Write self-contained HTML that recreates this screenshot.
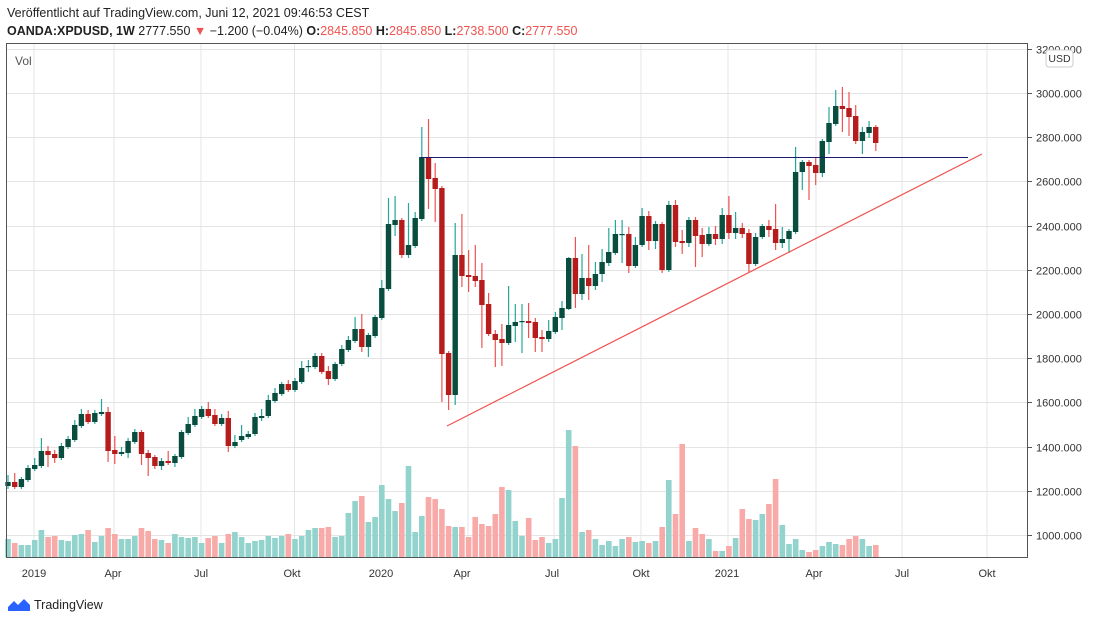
<!DOCTYPE html>
<html><head><meta charset="utf-8"><style>
body{margin:0;width:1100px;height:623px;background:#fff;overflow:hidden;font-family:"Liberation Sans",sans-serif;}
svg{position:absolute;left:0;top:0}
</style></head><body>
<svg id="s" width="1100" height="623" xmlns="http://www.w3.org/2000/svg" font-family="Liberation Sans, sans-serif">
<text x="7" y="17" font-size="12.5" fill="#222">Veröffentlicht auf TradingView.com, Juni 12, 2021 09:46:53 CEST</text>
<text x="7" y="35" font-size="12.5" fill="#222"><tspan font-weight="bold">OANDA:XPDUSD, 1W</tspan><tspan> 2777.550 </tspan><tspan fill="#ef5350">▼</tspan><tspan> −1.200 (−0.04%) </tspan><tspan font-weight="bold">O:</tspan><tspan fill="#ef5350">2845.850</tspan><tspan font-weight="bold"> H:</tspan><tspan fill="#ef5350">2845.850</tspan><tspan font-weight="bold"> L:</tspan><tspan fill="#ef5350">2738.500</tspan><tspan font-weight="bold"> C:</tspan><tspan fill="#ef5350">2777.550</tspan></text>
<g id="grid" stroke="#e4e4e4" stroke-width="1"></g>
<g id="vol"></g>
<g id="cand"></g>
<line x1="421" y1="157.5" x2="968" y2="157.5" stroke="#1a1a6e" stroke-width="1"/>
<line x1="447" y1="426" x2="982" y2="154" stroke="#ef5350" stroke-width="1.2"/>
<rect x="6.5" y="43.5" width="1021" height="514" fill="none" stroke="#555" stroke-width="1"/>
<text x="15" y="65" font-size="12" fill="#555">Vol</text>
<g id="ax" font-size="11" fill="#333"></g>
<rect x="1046" y="50" width="27" height="17" rx="3" fill="#fff" stroke="#ccc"/>
<text x="1059.5" y="62" font-size="10.5" fill="#333" text-anchor="middle">USD</text>
<g transform="translate(8,597)">
<path d="M0 10 L6 4 L10 8 L16 2 L22 8 L22 14 L0 14Z" fill="#2962ff"/>
</g>
<text x="34" y="609" font-size="12.5" fill="#222">TradingView</text>
</svg>
<script>
var C=[[482,486,'g',475,489],[482,487,'r',473,489],[479,487,'g',477,489],[468,480,'g',465,482],[465,469,'g',458,471],[451,466,'g',438,468],[451,455,'r',446,467],[454,458,'r',450,463],[446,458,'g',443,460],[439,447,'g',436,449],[425,440,'g',420,442],[414,426,'g',409,428],[414,422,'r',410,424],[413,422,'g',410,424],[412,414,'g',399,416],[412,451,'r',407,462],[450,454,'r',436,464],[452,454,'g',447,456],[441,453,'g',438,458],[432,442,'g',429,444],[432,454,'r',430,465],[453,458,'r',450,476],[457,466,'r',455,469],[461,466,'g',458,470],[461,463,'r',451,465],[456,463,'g',454,467],[432,457,'g',430,459],[424,433,'g',417,435],[416,425,'g',409,427],[409,417,'g',406,419],[409,416,'r',402,418],[415,424,'r',409,426],[418,424,'g',414,426],[418,446,'r',411,452],[442,446,'g',435,448],[436,440,'g',425,442],[434,437,'g',431,439],[417,434,'g',413,436],[416,418,'g',409,421],[400,416,'g',395,418],[393,401,'g',388,403],[384,394,'g',382,396],[384,390,'r',380,392],[381,390,'g',378,392],[368,382,'g',361,384],[366,367,'g',360,372],[356,367,'g',353,369],[356,372,'r',353,374],[371,379,'r',366,385],[364,379,'g',362,381],[349,364,'g',345,366],[340,350,'g',336,352],[329,341,'g',317,343],[329,347,'r',314,352],[335,347,'g',333,357],[317,336,'g',315,338],[288,318,'g',280,320],[224,289,'g',198,291],[220,225,'g',196,236],[220,255,'r',218,258],[245,255,'g',203,258],[218,246,'g',212,248],[157,219,'g',127,221],[157,179,'r',119,209],[178,189,'r',163,222],[188,354,'r',186,402],[353,395,'r',351,410],[255,395,'g',223,405],[255,276,'r',214,287],[275,277,'r',250,292],[276,281,'r',245,287],[280,305,'r',263,348],[304,334,'r',293,336],[334,340,'r',330,367],[339,343,'r',324,366],[325,343,'g',286,345],[322,326,'g',304,342],[321,322,'g',304,353],[321,323,'r',303,338],[322,338,'r',318,352],[337,339,'r',330,352],[331,339,'g',320,342],[317,332,'g',312,334],[308,318,'g',301,330],[258,309,'g',257,310],[258,294,'r',237,308],[278,294,'g',254,300],[278,286,'r',245,300],[274,286,'g',262,290],[262,274,'g',249,282],[252,263,'g',228,266],[234,253,'g',220,255],[234,235,'g',220,263],[234,266,'r',227,273],[245,266,'g',237,268],[216,245,'g',208,247],[216,241,'r',211,250],[224,241,'g',221,249],[224,270,'r',222,273],[205,270,'g',201,272],[205,242,'r',200,247],[241,243,'r',230,254],[220,243,'g',217,247],[220,236,'r',217,267],[235,244,'r',228,257],[234,244,'g',227,246],[234,239,'r',226,245],[215,239,'g',208,244],[215,233,'r',196,239],[228,233,'g',212,239],[228,234,'r',223,238],[233,264,'r',229,272],[237,264,'g',233,266],[226,237,'g',224,239],[226,230,'r',220,237],[229,243,'r',204,250],[239,243,'g',227,248],[231,239,'g',229,253],[172,232,'g',147,234],[162,172,'g',160,190],[162,166,'r',160,200],[165,173,'r',158,185],[141,173,'g',139,177],[123,142,'g',107,154],[106,124,'g',90,126],[106,109,'r',87,132],[108,117,'r',92,136],[116,141,'r',105,144],[132,141,'g',127,154],[127,133,'g',121,138],[127,143,'r',125,151]];
var V1=[[357,'g'],[369,'r'],[375,'g'],[375,'g'],[360,'g'],[330,'g'],[351,'r'],[348,'r'],[360,'g'],[363,'g'],[345,'g'],[342,'g'],[330,'r'],[366,'g'],[348,'g'],[324,'r'],[342,'r'],[357,'g'],[357,'g'],[348,'g'],[324,'r'],[333,'r'],[357,'r'],[360,'g'],[369,'r'],[342,'g'],[351,'g'],[354,'g'],[351,'g'],[369,'g'],[354,'r'],[348,'r'],[369,'g'],[342,'r'],[336,'g'],[351,'g'],[369,'g'],[363,'g'],[360,'g'],[348,'g'],[354,'g'],[348,'g'],[342,'r'],[357,'g'],[348,'g'],[330,'g'],[324,'g'],[324,'r'],[321,'r'],[351,'g'],[348,'g'],[279,'g'],[243,'g'],[228,'r'],[306,'g'],[291,'g'],[195,'g'],[237,'g'],[273,'g'],[249,'r'],[138,'g'],[336,'g'],[288,'g'],[231,'r'],[237,'r']];
var V2=[[267,'r'],[318,'r'],[321,'g'],[321,'r'],[351,'r'],[291,'r'],[312,'r'],[318,'r'],[282,'r'],[201,'r'],[210,'g'],[303,'g'],[348,'g'],[294,'r'],[360,'r'],[351,'r'],[369,'g'],[357,'g'],[234,'g'],[30,'g'],[78,'r'],[336,'g'],[330,'r'],[357,'g'],[375,'g'],[363,'g'],[378,'g'],[357,'g'],[351,'r'],[366,'g'],[363,'g'],[369,'r'],[363,'g'],[321,'r'],[180,'g'],[282,'r'],[72,'r'],[363,'g'],[324,'r'],[342,'r'],[357,'g'],[393,'r'],[393,'g'],[378,'r'],[354,'g'],[267,'r'],[297,'r'],[300,'g'],[282,'g'],[252,'r'],[177,'r'],[315,'g'],[372,'g'],[357,'g'],[390,'g'],[396,'r'],[390,'r'],[378,'g'],[366,'g'],[372,'g'],[375,'r'],[357,'r'],[348,'r'],[357,'g'],[378,'g'],[375,'r']];
var NS='http://www.w3.org/2000/svg';
function el(p,t,a,txt){var e=document.createElementNS(NS,t);for(var k in a)e.setAttribute(k,a[k]);if(txt)e.textContent=txt;document.getElementById(p).appendChild(e);}
// grid
[34,114,201,294.5,381,468,554,641,728,816,902,987].forEach(function(x){el('grid','line',{x1:x,y1:44,x2:x,y2:557});});
var prices=[3200,3000,2800,2600,2400,2200,2000,1800,1600,1400,1200,1000];
prices.forEach(function(p){var y=Math.round(93+(3000-p)*0.221)+0.5;el('grid','line',{x1:7,y1:y,x2:1027,y2:y});
el('ax','line',{x1:1028,y1:y,x2:1032,y2:y,stroke:'#555'});
el('ax','text',{x:1036,y:y+4},p+'.000');});
var xl=[[34,'2019'],[113,'Apr'],[201,'Jul'],[292,'Okt'],[381,'2020'],[462,'Apr'],[552,'Jul'],[641,'Okt'],[727,'2021'],[814,'Apr'],[902,'Jul'],[987,'Okt']];
xl.forEach(function(a){el('ax','text',{x:a[0],y:577,'text-anchor':'middle'},a[1]);});
var V=V1.concat(V2);
for(var i=0;i<V.length;i++){var x=8+6.675*i;var y=420+V[i][0]/3;
el('vol','rect',{x:(x-2.8).toFixed(1),y:y.toFixed(1),width:5.6,height:(557-y).toFixed(1),fill:V[i][1]=='g'?'#93d3cd':'#f7aaa8'});}
for(var i=0;i<C.length;i++){var c=C[i],x=8+6.675*i,g=c[2]=='g';
el('cand','line',{x1:x.toFixed(1),y1:c[3],x2:x.toFixed(1),y2:c[4],stroke:g?'#26a69a':'#ef5350','stroke-width':1.2});
el('cand','rect',{x:(x-2.7).toFixed(1),y:c[0],width:5.4,height:Math.max(1.2,c[1]-c[0]),fill:g?'#084d3d':'#b71c1c'});}
</script>
</body></html>
